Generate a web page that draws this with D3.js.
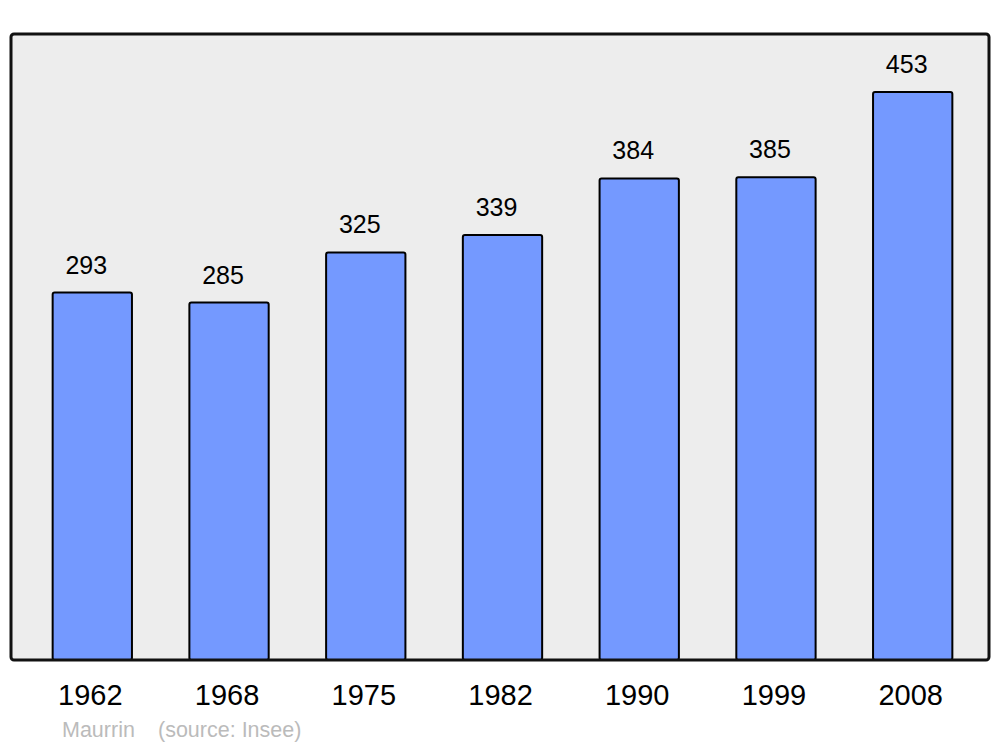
<!DOCTYPE html>
<html>
<head>
<meta charset="utf-8">
<script src="https://cdn.jsdelivr.net/npm/d3@7"></script>
<style>
  body { margin: 0; background: #fff; }
  svg text { font-family: "Liberation Sans", Arial, sans-serif; }
</style>
</head>
<body>
<svg id="chart" width="1000" height="747"></svg>
<script>
// population by census year
var years = ["1962", "1968", "1975", "1982", "1990", "1999", "2008"];
var population = [293, 285, 325, 339, 384, 385, 453];

var svg = d3.select("#chart");

var panel = {left: 11, top: 34, right: 989, bottom: 660};

var x = d3.scaleBand()
    .domain(years)
    .range([13, 992])
    .paddingInner(0.42)
    .paddingOuter(0.29);

var y = d3.scaleLinear()
    .domain([0, 500])
    .range([panel.bottom, 33]);

// background panel
svg.append("rect")
    .attr("x", panel.left)
    .attr("y", panel.top)
    .attr("width", panel.right - panel.left)
    .attr("height", panel.bottom - panel.top)
    .attr("rx", 3)
    .attr("fill", "#ededed")
    .attr("stroke", "none");

var data = years.map(function(d, i) { return {year: d, value: population[i]}; });

svg.selectAll(".bar").data(data).enter()
    .append("rect")
    .attr("class", "bar")
    .attr("x", function(d) { return x(d.year); })
    .attr("y", function(d) { return y(d.value); })
    .attr("width", x.bandwidth())
    .attr("height", function(d) { return y(0) - y(d.value); })
    .attr("rx", 2)
    .attr("fill", "#7499ff")
    .attr("stroke", "#000")
    .attr("stroke-width", 2);

// panel border on top
svg.append("rect")
    .attr("x", panel.left)
    .attr("y", panel.top)
    .attr("width", panel.right - panel.left)
    .attr("height", panel.bottom - panel.top)
    .attr("rx", 3)
    .attr("fill", "none")
    .attr("stroke", "#111")
    .attr("stroke-width", 3);

// value labels
svg.selectAll(".val").data(data).enter()
    .append("text")
    .attr("class", "val")
    .attr("x", function(d) { return x(d.year) + x.bandwidth() / 2 - 6; })
    .attr("y", function(d) { return y(d.value) - 19; })
    .attr("text-anchor", "middle")
    .attr("font-size", "25px")
    .attr("fill", "#000")
    .text(function(d) { return d.value; });

// year axis
var xAxis = d3.axisBottom(x).tickSize(0).tickPadding(0);
var gx = svg.append("g")
    .attr("transform", "translate(-2," + panel.bottom + ")")
    .call(xAxis);
gx.select(".domain").remove();
gx.selectAll("text")
    .attr("dy", null)
    .attr("y", 45)
    .attr("font-size", "29px")
    .attr("font-family", "Liberation Sans, Arial, sans-serif")
    .attr("fill", "#000");

// footer
svg.append("text")
    .attr("x", 62)
    .attr("y", 737)
    .attr("font-size", "21.5px")
    .attr("fill", "#bbb")
    .text("Maurrin");
svg.append("text")
    .attr("x", 158)
    .attr("y", 737)
    .attr("font-size", "21.5px")
    .attr("fill", "#bbb")
    .text("(source: Insee)");
</script>
</body>
</html>
